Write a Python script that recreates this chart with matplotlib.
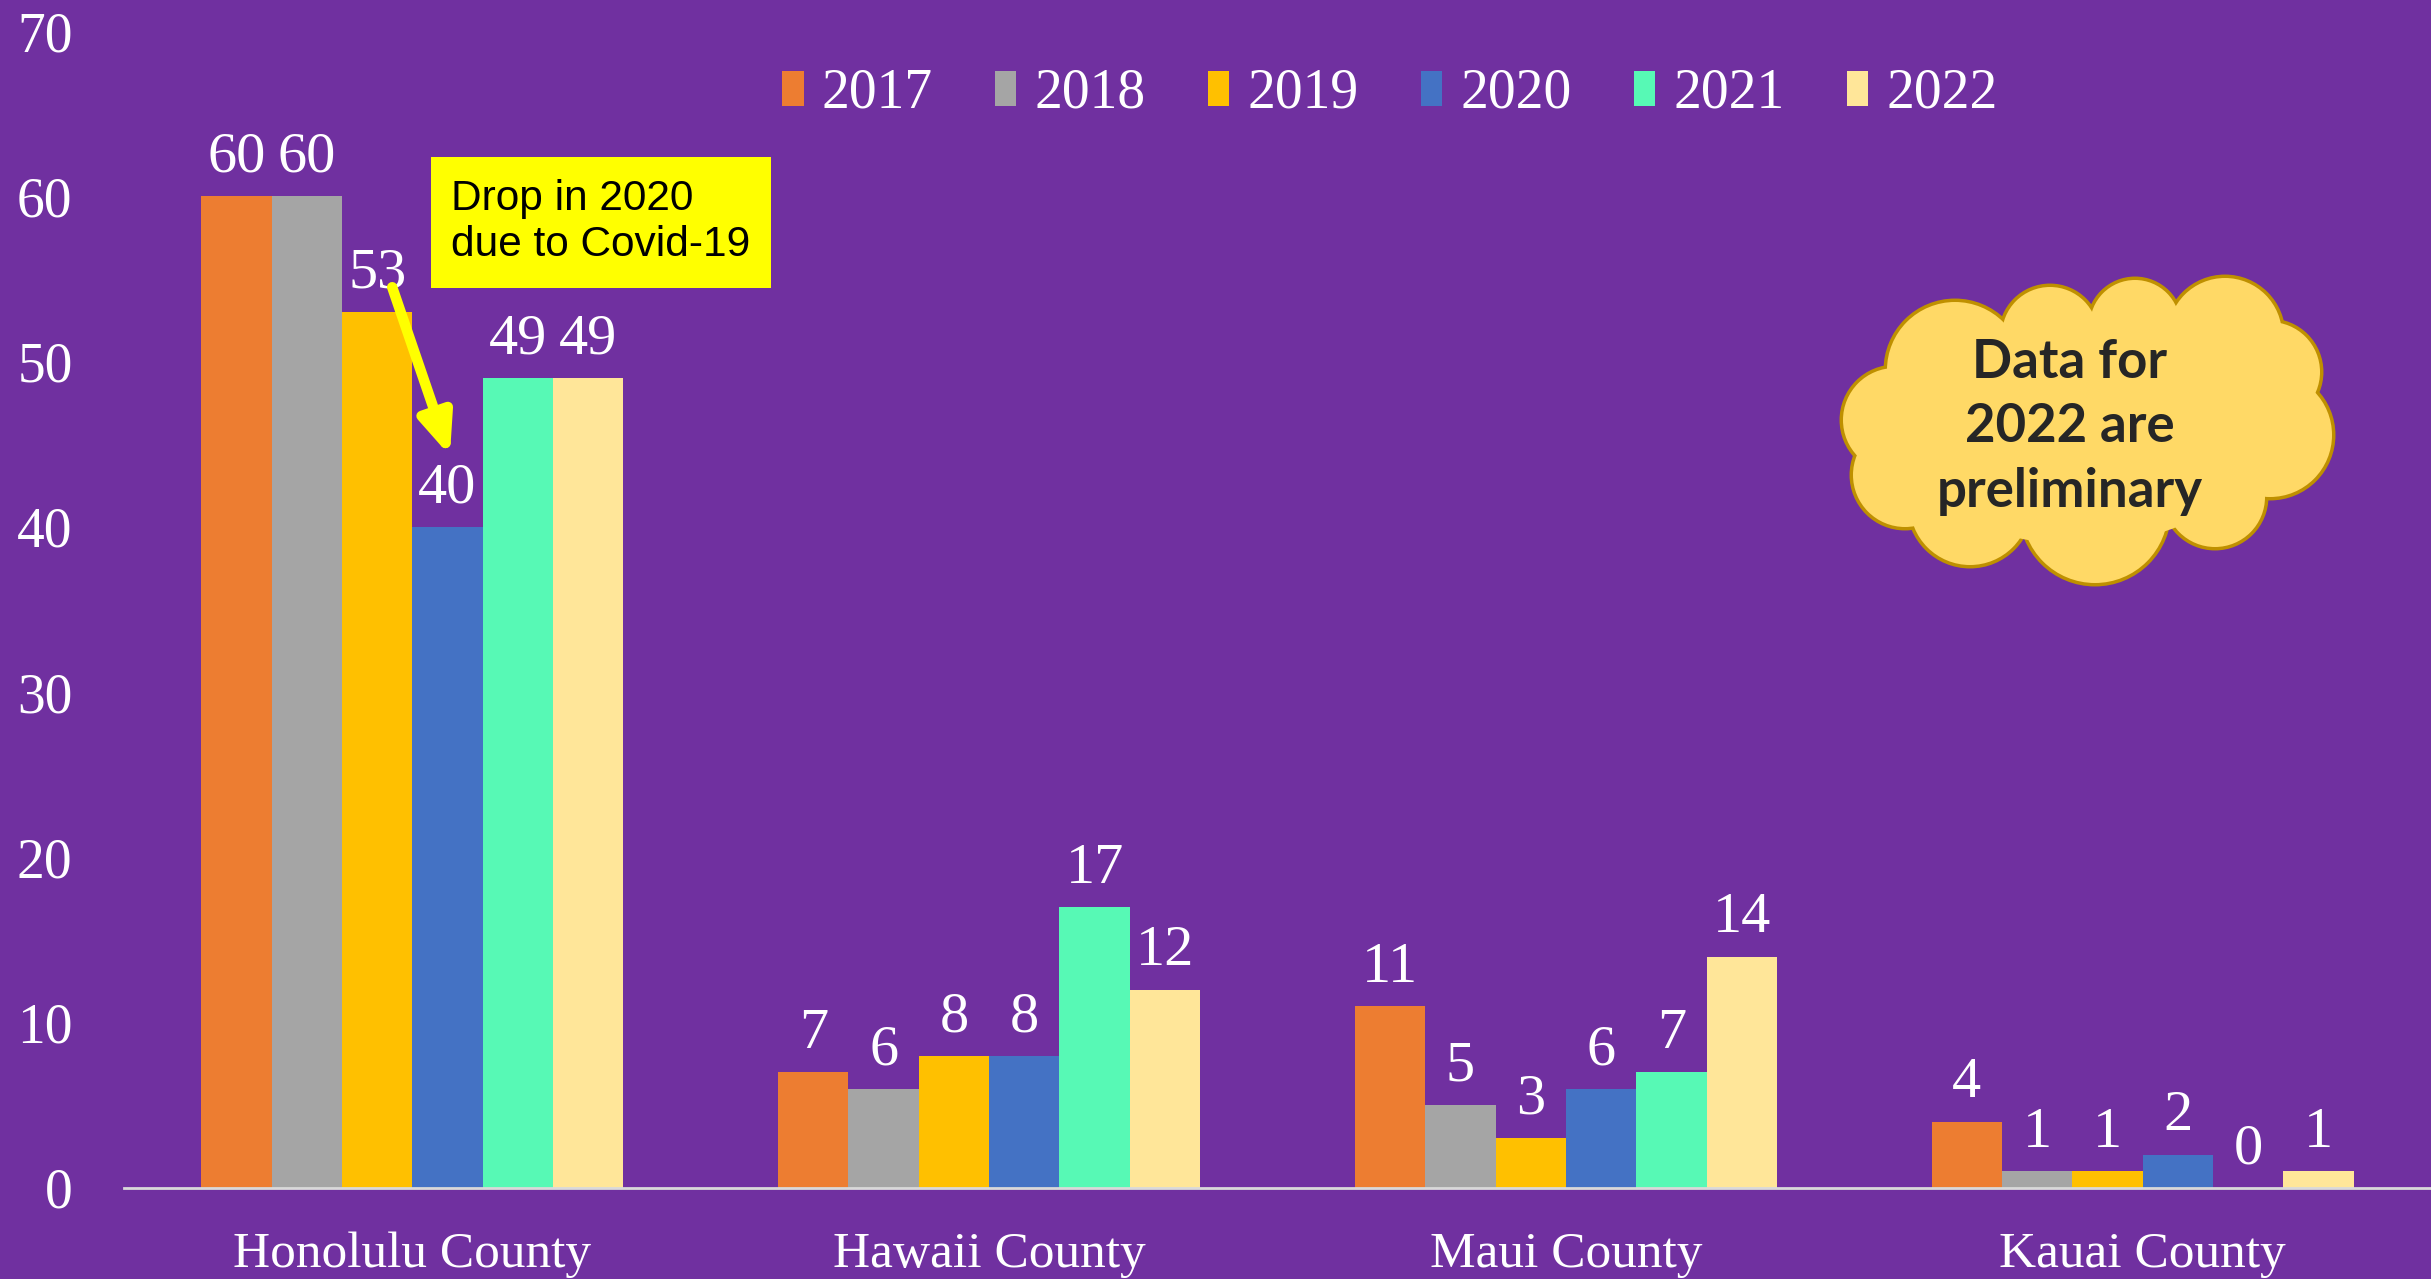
import matplotlib
matplotlib.use("Agg")
import matplotlib.pyplot as plt
import numpy as np
from matplotlib.patches import Rectangle, Circle, Ellipse

# data
counties = ["Honolulu County", "Hawaii County", "Maui County", "Kauai County"]
years = ["2017", "2018", "2019", "2020", "2021", "2022"]
v2017 = [60, 7, 11, 4]
v2018 = [60, 6, 5, 1]
v2019 = [53, 8, 3, 1]
v2020 = [40, 8, 6, 2]
v2021 = [49, 17, 7, 0]
v2022 = [49, 12, 14, 1]
series = [v2017, v2018, v2019, v2020, v2021, v2022]
colors = ["#ED7D31", "#A5A5A5", "#FFC000", "#4472C4", "#57F9B5", "#FFE699"]

bg = "#7030A0"
W, H = 2431, 1279
serif = "Liberation Serif"

fig = plt.figure(figsize=(W / 100, H / 100), dpi=100, facecolor=bg)
ax = fig.add_axes([124 / W, 91 / H, (W - 124) / W, (1188 - 31) / H])
ax.set_facecolor(bg)

x = np.arange(len(counties))
w = 0.122
for i, (vals, c) in enumerate(zip(series, colors)):
    b = ax.bar(x + (i - 2.5) * w, vals, w, color=c, label=years[i], zorder=3)
    ax.bar_label(b, padding=9, color="white", fontsize=42, family=serif)

ax.set_xlim(-0.5, 3.5)
ax.set_ylim(0, 70)
ax.set_yticks(range(0, 71, 10))
ax.set_xticks(x)
ax.set_xticklabels(counties)
ax.tick_params(axis="y", length=0, pad=37, labelsize=40, labelcolor="white")
ax.tick_params(axis="x", length=0, pad=31, labelsize=37, labelcolor="white")
for lab in ax.get_xticklabels() + ax.get_yticklabels():
    lab.set_family(serif)
for s in ["top", "right", "left"]:
    ax.spines[s].set_visible(False)
ax.spines["bottom"].set_color("#D9D9D9")
ax.spines["bottom"].set_linewidth(2)
ax.spines["bottom"].set_zorder(4)

leg = ax.legend(ncol=6, loc="center", bbox_to_anchor=(1390 / W, 1 - 94 / H),
                bbox_transform=fig.transFigure, frameon=False,
                prop={"family": serif, "size": 40},
                handlelength=0.38, handleheight=0.58, handletextpad=0.33,
                columnspacing=1.12)
for t in leg.get_texts():
    t.set_color("white")

# arrow for 2020 drop
ax.annotate("", xy=(0.065, 44.3), xytext=(-0.035, 54.5),
            arrowprops=dict(arrowstyle="-|>,head_length=0.6,head_width=0.25",
                            color="#FFFF00", lw=7.5, mutation_scale=40,
                            shrinkA=0, shrinkB=0), zorder=6)

# overlay in pixel coords for the callouts
ov = fig.add_axes([0, 0, 1, 1])
ov.set_xlim(0, W)
ov.set_ylim(H, 0)
ov.axis("off")
ov.patch.set_alpha(0)

ov.add_patch(Rectangle((431, 157), 340, 131, facecolor="#FFFF00", edgecolor="none"))
ov.text(451, 222, "Drop in 2020\ndue to Covid-19", fontsize=30.5,
        family="Liberation Sans", color="black", va="center", ha="left",
        linespacing=1.2)

lobes = [(1955, 370, 68), (2050, 335, 48), (2135, 325, 45), (2225, 335, 57),
         (2270, 372, 50), (2270, 435, 62), (2215, 497, 50), (2095, 510, 73),
         (1970, 505, 60), (1905, 475, 52), (1895, 420, 52)]
for cx, cy, r in lobes:
    ov.add_patch(Circle((cx, cy), r, facecolor="#FFD966", edgecolor="#BF9000", lw=5))
for cx, cy, r in lobes:
    ov.add_patch(Circle((cx, cy), r, facecolor="#FFD966", edgecolor="none"))
ov.add_patch(Ellipse((2080, 430), 360, 230, facecolor="#FFD966", edgecolor="none"))
ov.text(2070, 427, "Data for\n2022 are\npreliminary", fontsize=38, family="Lato",
        weight="bold", color="#262626", ha="center", va="center", linespacing=1.38)

fig.savefig("out.png", dpi=100, facecolor=bg)
